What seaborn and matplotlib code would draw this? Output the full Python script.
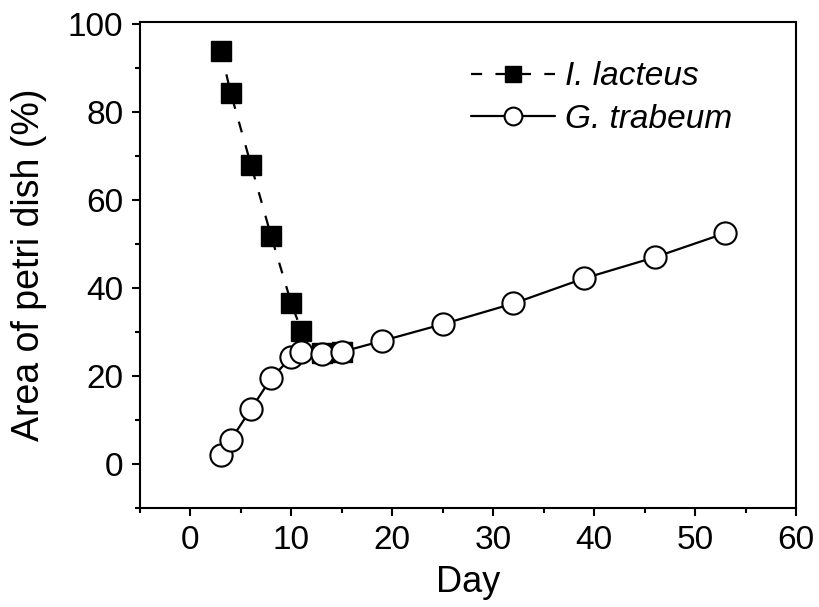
import matplotlib
matplotlib.use("Agg")
import matplotlib.pyplot as plt
import seaborn as sns
import pandas as pd
from matplotlib.ticker import MultipleLocator

# ---- data ----
days_lacteus = [3, 4, 6, 8, 10, 11, 13, 15]
area_lacteus = [94.0, 84.3, 68.0, 51.8, 36.5, 30.3, 25.3, 25.5]

days_trabeum = [3, 4, 6, 8, 10, 11, 13, 15, 19, 25, 32, 39, 46, 53]
area_trabeum = [2.0, 5.5, 12.5, 19.5, 24.3, 25.5, 25.0, 25.5, 28.0, 31.8, 36.5, 42.2, 47.0, 52.5]

label_lacteus = "I. lacteus"
label_trabeum = "G. trabeum"
x_label = "Day"
y_label = "Area of petri dish (%)"

df_l = pd.DataFrame({"Day": days_lacteus, "Area": area_lacteus})
df_t = pd.DataFrame({"Day": days_trabeum, "Area": area_trabeum})

sns.set_theme(style="ticks")
plt.rcParams["font.family"] = ["Liberation Sans", "DejaVu Sans"]
plt.rcParams["text.color"] = "black"
plt.rcParams["axes.labelcolor"] = "black"

fig = plt.figure(figsize=(8.2, 6.07), dpi=100)
ax = fig.add_axes([140/820, 1-508/607, (796-140)/820, (508-22)/607])

sns.lineplot(data=df_l, x="Day", y="Area", ax=ax, color="black",
             linestyle=(0, (5, 6)), linewidth=1.6, marker="s", markersize=15,
             markerfacecolor="black", markeredgecolor="black", markeredgewidth=1.0,
             label=label_lacteus, zorder=2)
sns.lineplot(data=df_t, x="Day", y="Area", ax=ax, color="black",
             linestyle="-", linewidth=1.6, marker="o", markersize=16,
             markerfacecolor="white", markeredgecolor="black", markeredgewidth=1.5,
             label=label_trabeum, zorder=3)

ax.set_xlim(-5, 60)
ax.set_ylim(-10, 100.5)
ax.xaxis.set_major_locator(MultipleLocator(10))
ax.xaxis.set_minor_locator(MultipleLocator(5))
ax.yaxis.set_minor_locator(MultipleLocator(10))
ax.set_yticks([0, 20, 40, 60, 80, 100])

ax.tick_params(axis="both", which="major", direction="out", length=6, width=1.5,
               labelsize=24, color="black", labelcolor="black", pad=6)
ax.tick_params(axis="both", which="minor", direction="out", length=3.5, width=1.5,
               color="black")
for s in ax.spines.values():
    s.set_linewidth(1.5)
    s.set_color("black")
    s.set_visible(True)

ax.set_xlabel(x_label, fontsize=26, labelpad=7)
ax.set_ylabel(y_label, fontsize=27, labelpad=15)

leg = ax.legend(loc="upper right", bbox_to_anchor=(0.948, 0.981), frameon=False,
                prop={"style": "italic", "size": 24}, handlelength=2.5,
                handletextpad=0.3, labelspacing=0.35, markerscale=0.8)

fig.savefig("out.png", dpi=100, facecolor="white")
